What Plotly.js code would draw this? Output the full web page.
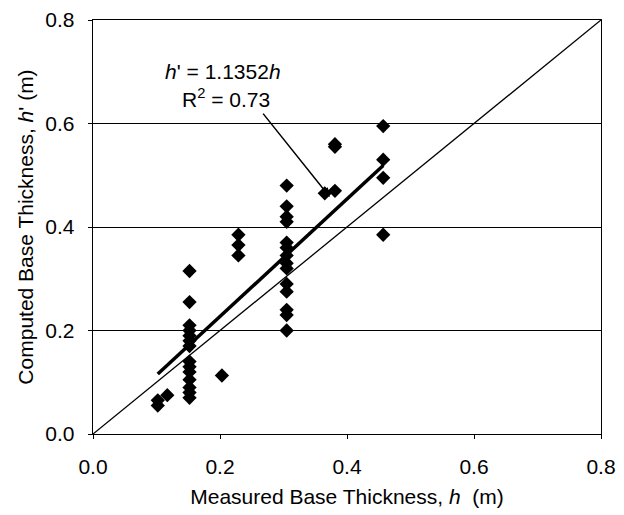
<!DOCTYPE html>
<html>
<head>
<meta charset="utf-8">
<script src="https://cdn.plot.ly/plotly-3.0.1.min.js"></script>
<style>html,body{margin:0;padding:0;background:#fff;}#chart{width:624px;height:515px;}</style>
</head>
<body>
<div id="chart"></div>
<script>
// Measured base thickness h (m)
const measured = [
  0.102, 0.102, 0.117,
  0.152, 0.152, 0.152, 0.152, 0.152, 0.152, 0.152, 0.152, 0.152, 0.152, 0.152, 0.152, 0.152, 0.152,
  0.203,
  0.229, 0.229, 0.229,
  0.305, 0.305, 0.305, 0.305, 0.305, 0.305, 0.305, 0.305, 0.305, 0.305, 0.305, 0.305, 0.305, 0.305,
  0.365, 0.381, 0.381, 0.381,
  0.457, 0.457, 0.457, 0.457
];
// Computed base thickness h' (m)
const computed = [
  0.055, 0.065, 0.075,
  0.315, 0.255, 0.21, 0.20, 0.19, 0.18, 0.17, 0.14, 0.13, 0.12, 0.105, 0.09, 0.08, 0.07,
  0.113,
  0.385, 0.365, 0.345,
  0.48, 0.44, 0.42, 0.41, 0.37, 0.36, 0.345, 0.33, 0.32, 0.29, 0.275, 0.24, 0.23, 0.20,
  0.465, 0.47, 0.555, 0.56,
  0.595, 0.53, 0.495, 0.385
];
const slope = 1.1352;
const fitX = [0.102, 0.457];
const fitY = fitX.map(v => slope * v);
const lineEqX = [0, 0.8];
const lineEqY = [0, 0.8];
const tickVals = [0, 0.2, 0.4, 0.6, 0.8];
const tickText = ['0.0', '0.2', '0.4', '0.6', '0.8'];

const font = {family: 'Arial, "Liberation Sans", Helvetica, sans-serif', size: 21, color: '#000'};

const traces = [
  {x: lineEqX, y: lineEqY, mode: 'lines', line: {color: '#000', width: 1.3}, hoverinfo: 'skip'},
  {x: fitX, y: fitY, mode: 'lines', line: {color: '#000', width: 3.5}, hoverinfo: 'skip'},
  {x: measured, y: computed, mode: 'markers', marker: {symbol: 'diamond', size: 11, color: '#000'}}
];

const layout = {
  width: 624, height: 515,
  margin: {l: 93, r: 23, t: 20, b: 81},
  paper_bgcolor: '#fff', plot_bgcolor: '#fff',
  showlegend: false,
  font: font,
  xaxis: {
    range: [0, 0.8], tickvals: tickVals, ticktext: tickText,
    showgrid: false, zeroline: false,
    showline: true, linecolor: '#000', linewidth: 1.3, mirror: true,
    ticks: 'outside', ticklen: 4, tickcolor: '#000', ticklabelstandoff: 9,
    title: {text: 'Measured Base Thickness, <i>h</i>  (m)', font: font, standoff: 12}
  },
  yaxis: {
    range: [0, 0.8], tickvals: tickVals, ticktext: tickText,
    showgrid: true, gridcolor: '#000', gridwidth: 1, zeroline: false,
    showline: true, linecolor: '#000', linewidth: 1.3, mirror: true,
    ticks: 'outside', ticklen: 4, tickcolor: '#000', ticklabelstandoff: 9,
    title: {text: "Computed Base Thickness, <i>h</i>' (m)", font: font, standoff: 6}
  },
  annotations: [
    {x: 0.205, y: 0.70, xref: 'x', yref: 'y', text: "<i>h</i>' = 1.1352<i>h</i>", showarrow: false, font: font, xanchor: 'center', yanchor: 'middle'},
    {x: 0.21, y: 0.649, xref: 'x', yref: 'y', text: 'R<sup>2</sup> = 0.73', showarrow: false, font: font, xanchor: 'center', yanchor: 'middle'},
    {x: 0.373, y: 0.458, xref: 'x', yref: 'y', ax: 0.266, ay: 0.622, axref: 'x', ayref: 'y',
     text: '', showarrow: true, arrowhead: 2, arrowsize: 1.2, arrowwidth: 1.5, arrowcolor: '#000'}
  ]
};

Plotly.newPlot('chart', traces, layout, {displayModeBar: false, staticPlot: true});
</script>
</body>
</html>
